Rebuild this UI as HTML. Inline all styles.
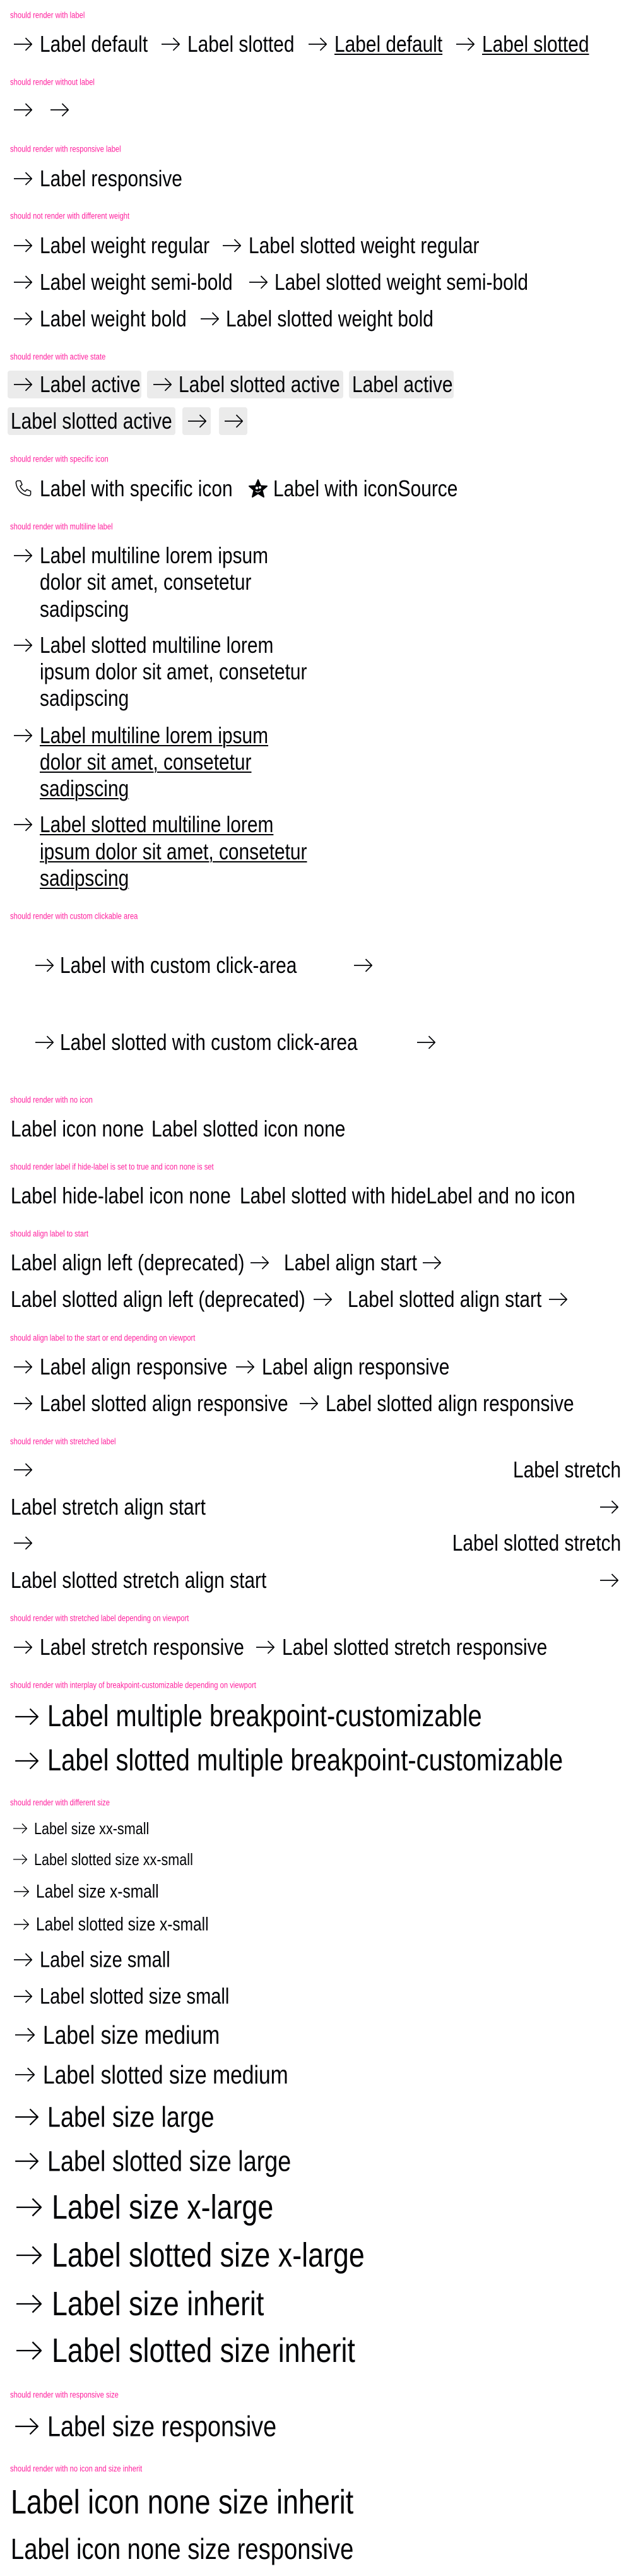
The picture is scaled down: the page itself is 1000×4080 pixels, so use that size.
<!DOCTYPE html>
<html><head><meta charset="utf-8"><style>
html,body{margin:0;padding:0;background:#fff;}
body{width:1000px;height:4080px;position:relative;overflow:hidden;font-family:"Liberation Sans",sans-serif;color:#010205;}
.t{position:absolute;white-space:nowrap;line-height:1;transform:translateY(-50%) scaleX(.83);transform-origin:0 50%;font-size:36px;}
.r{position:absolute;white-space:nowrap;line-height:1;transform:translateY(-50%) scaleX(.83);transform-origin:100% 50%;font-size:36px;right:16px;}
.h{position:absolute;left:16px;white-space:nowrap;line-height:1;transform:translateY(-50%) scaleX(.83);transform-origin:0 50%;font-size:13.5px;color:#ff1f9d;}
.u{text-decoration:underline;text-decoration-thickness:2px;text-underline-offset:3px;}
.a{position:absolute;transform:translateY(-50%);overflow:visible;}
.b{position:absolute;background:#ebebeb;border-radius:4px;}
</style></head><body>
<svg width="0" height="0" style="position:absolute"><defs><symbol id="ar" viewBox="1 0 22 24"><path d="M1 12H22.5M15 4.5L22.5 12L15 19.5" fill="none" stroke="#010205" stroke-width="1.3"/></symbol></defs></svg>

<div class="h" style="top:24px">should render with label</div>
<svg class="a" style="left:22px;top:70px;width:29px;height:32px"><use href="#ar"/></svg><div class="t" style="left:63px;top:70px">Label default</div>
<svg class="a" style="left:256px;top:70px;width:29px;height:32px"><use href="#ar"/></svg><div class="t" style="left:297px;top:70px">Label slotted</div>
<svg class="a" style="left:489px;top:70px;width:29px;height:32px"><use href="#ar"/></svg><div class="t u" style="left:530px;top:70px">Label default</div>
<svg class="a" style="left:723px;top:70px;width:29px;height:32px"><use href="#ar"/></svg><div class="t u" style="left:764px;top:70px">Label slotted</div>

<div class="h" style="top:130px">should render without label</div>
<svg class="a" style="left:22px;top:174px;width:29px;height:32px"><use href="#ar"/></svg>
<svg class="a" style="left:80px;top:174px;width:29px;height:32px"><use href="#ar"/></svg>

<div class="h" style="top:236px">should render with responsive label</div>
<svg class="a" style="left:22px;top:283px;width:29px;height:32px"><use href="#ar"/></svg><div class="t" style="left:63px;top:283px">Label responsive</div>

<div class="h" style="top:342px">should not render with different weight</div>
<svg class="a" style="left:22px;top:389px;width:29px;height:32px"><use href="#ar"/></svg><div class="t" style="left:63px;top:389px">Label weight regular</div>
<svg class="a" style="left:353px;top:389px;width:29px;height:32px"><use href="#ar"/></svg><div class="t" style="left:394px;top:389px">Label slotted weight regular</div>
<svg class="a" style="left:22px;top:447px;width:29px;height:32px"><use href="#ar"/></svg><div class="t" style="left:63px;top:447px">Label weight semi-bold</div>
<svg class="a" style="left:395px;top:447px;width:29px;height:32px"><use href="#ar"/></svg><div class="t" style="left:435px;top:447px">Label slotted weight semi-bold</div>
<svg class="a" style="left:22px;top:505px;width:29px;height:32px"><use href="#ar"/></svg><div class="t" style="left:63px;top:505px">Label weight bold</div>
<svg class="a" style="left:318px;top:505px;width:29px;height:32px"><use href="#ar"/></svg><div class="t" style="left:358px;top:505px">Label slotted weight bold</div>

<div class="h" style="top:565px">should render with active state</div>
<div class="b" style="left:12px;top:587px;width:212px;height:44px"></div>
<div class="b" style="left:233px;top:587px;width:311px;height:44px"></div>
<div class="b" style="left:553px;top:587px;width:166px;height:44px"></div>
<div class="b" style="left:12px;top:645px;width:266px;height:44px"></div>
<div class="b" style="left:289px;top:645px;width:45px;height:44px"></div>
<div class="b" style="left:347px;top:645px;width:45px;height:44px"></div>
<svg class="a" style="left:22px;top:609px;width:29px;height:32px"><use href="#ar"/></svg><div class="t" style="left:63px;top:609px">Label active</div>
<svg class="a" style="left:243px;top:609px;width:29px;height:32px"><use href="#ar"/></svg><div class="t" style="left:283px;top:609px">Label slotted active</div>
<div class="t" style="left:558px;top:609px">Label active</div>
<div class="t" style="left:17px;top:667px">Label slotted active</div>
<svg class="a" style="left:298px;top:667px;width:29px;height:32px"><use href="#ar"/></svg>
<svg class="a" style="left:356px;top:667px;width:29px;height:32px"><use href="#ar"/></svg>

<div class="h" style="top:727px">should render with specific icon</div>
<svg class="a" style="left:21px;top:774px;width:32px;height:32px" viewBox="0 0 32 32"><path d="M7 3.5l4.5 0 2.5 6-3 2.5c1.5 3.8 4.2 6.6 8 8.3l2.6-3 6 2.6v4.6c0 1.6-1.4 2.8-3 2.6C13.5 26 5.8 18.3 4.4 7.3 4.2 5.2 5.4 3.5 7 3.5z" fill="none" stroke="#010205" stroke-width="1.5" stroke-linejoin="round"/></svg>
<div class="t" style="left:63px;top:774px">Label with specific icon</div>
<svg class="a" style="left:394px;top:774px;width:30px;height:30px" viewBox="0 0 30 30"><polygon points="15,1 19,10.5 29,11 21.5,17.5 24,28 15,22.5 6,28 8.5,17.5 1,11 11,10.5" fill="#010205" stroke="#010205" stroke-width="2" stroke-linejoin="round"/><circle cx="13" cy="14" r="2.2" fill="#fff"/><circle cx="18" cy="13" r="2" fill="#fff"/><path d="M11 19q4 3 8 -1" stroke="#fff" stroke-width="1.2" fill="none"/></svg>
<div class="t" style="left:433px;top:774px">Label with iconSource</div>

<div class="h" style="top:834px">should render with multiline label</div>
<svg class="a" style="left:22px;top:880px;width:29px;height:32px"><use href="#ar"/></svg>
<div class="t" style="left:63px;top:880px">Label multiline lorem ipsum</div>
<div class="t" style="left:63px;top:922px">dolor sit amet, consetetur</div>
<div class="t" style="left:63px;top:965px">sadipscing</div>
<svg class="a" style="left:22px;top:1022px;width:29px;height:32px"><use href="#ar"/></svg>
<div class="t" style="left:63px;top:1022px">Label slotted multiline lorem</div>
<div class="t" style="left:63px;top:1064px">ipsum dolor sit amet, consetetur</div>
<div class="t" style="left:63px;top:1106px">sadipscing</div>
<svg class="a" style="left:22px;top:1165px;width:29px;height:32px"><use href="#ar"/></svg>
<div class="t u" style="left:63px;top:1165px">Label multiline lorem ipsum</div>
<div class="t u" style="left:63px;top:1207px">dolor sit amet, consetetur</div>
<div class="t u" style="left:63px;top:1249px">sadipscing</div>
<svg class="a" style="left:22px;top:1306px;width:29px;height:32px"><use href="#ar"/></svg>
<div class="t u" style="left:63px;top:1306px">Label slotted multiline lorem</div>
<div class="t u" style="left:63px;top:1349px">ipsum dolor sit amet, consetetur</div>
<div class="t u" style="left:63px;top:1391px">sadipscing</div>

<div class="h" style="top:1451px">should render with custom clickable area</div>
<svg class="a" style="left:56px;top:1529px;width:29px;height:32px"><use href="#ar"/></svg><div class="t" style="left:95px;top:1529px">Label with custom click-area</div>
<svg class="a" style="left:561px;top:1529px;width:29px;height:32px"><use href="#ar"/></svg>
<svg class="a" style="left:56px;top:1651px;width:29px;height:32px"><use href="#ar"/></svg><div class="t" style="left:95px;top:1651px">Label slotted with custom click-area</div>
<svg class="a" style="left:661px;top:1651px;width:29px;height:32px"><use href="#ar"/></svg>

<div class="h" style="top:1742px">should render with no icon</div>
<div class="t" style="left:17px;top:1788px">Label icon none</div>
<div class="t" style="left:240px;top:1788px">Label slotted icon none</div>

<div class="h" style="top:1848px">should render label if hide-label is set to true and icon none is set</div>
<div class="t" style="left:17px;top:1894px">Label hide-label icon none</div>
<div class="t" style="left:380px;top:1894px">Label slotted with hideLabel and no icon</div>

<div class="h" style="top:1954px">should align label to start</div>
<div class="t" style="left:17px;top:2000px">Label align left (deprecated)</div>
<svg class="a" style="left:397px;top:2000px;width:29px;height:32px"><use href="#ar"/></svg>
<div class="t" style="left:450px;top:2000px">Label align start</div>
<svg class="a" style="left:670px;top:2000px;width:29px;height:32px"><use href="#ar"/></svg>
<div class="t" style="left:17px;top:2058px">Label slotted align left (deprecated)</div>
<svg class="a" style="left:497px;top:2058px;width:29px;height:32px"><use href="#ar"/></svg>
<div class="t" style="left:551px;top:2058px">Label slotted align start</div>
<svg class="a" style="left:870px;top:2058px;width:29px;height:32px"><use href="#ar"/></svg>

<div class="h" style="top:2119px">should align label to the start or end depending on viewport</div>
<svg class="a" style="left:22px;top:2165px;width:29px;height:32px"><use href="#ar"/></svg><div class="t" style="left:63px;top:2165px">Label align responsive</div>
<svg class="a" style="left:374px;top:2165px;width:29px;height:32px"><use href="#ar"/></svg><div class="t" style="left:415px;top:2165px">Label align responsive</div>
<svg class="a" style="left:22px;top:2223px;width:29px;height:32px"><use href="#ar"/></svg><div class="t" style="left:63px;top:2223px">Label slotted align responsive</div>
<svg class="a" style="left:475px;top:2223px;width:29px;height:32px"><use href="#ar"/></svg><div class="t" style="left:516px;top:2223px">Label slotted align responsive</div>

<div class="h" style="top:2283px">should render with stretched label</div>
<svg class="a" style="left:22px;top:2328px;width:29px;height:32px"><use href="#ar"/></svg><div class="r" style="top:2328px">Label stretch</div>
<div class="t" style="left:17px;top:2387px">Label stretch align start</div><svg class="a" style="left:951px;top:2387px;width:29px;height:32px"><use href="#ar"/></svg>
<svg class="a" style="left:22px;top:2444px;width:29px;height:32px"><use href="#ar"/></svg><div class="r" style="top:2444px">Label slotted stretch</div>
<div class="t" style="left:17px;top:2503px">Label slotted stretch align start</div><svg class="a" style="left:951px;top:2503px;width:29px;height:32px"><use href="#ar"/></svg>

<div class="h" style="top:2563px">should render with stretched label depending on viewport</div>
<svg class="a" style="left:22px;top:2609px;width:29px;height:32px"><use href="#ar"/></svg><div class="t" style="left:63px;top:2609px">Label stretch responsive</div>
<svg class="a" style="left:406px;top:2609px;width:29px;height:32px"><use href="#ar"/></svg><div class="t" style="left:447px;top:2609px">Label slotted stretch responsive</div>

<div class="h" style="top:2669px">should render with interplay of breakpoint-customizable depending on viewport</div>
<svg class="a" style="left:24px;top:2719px;width:37px;height:40px"><use href="#ar"/></svg><div class="t" style="left:75px;top:2719px;font-size:48px">Label multiple breakpoint-customizable</div>
<svg class="a" style="left:24px;top:2789px;width:37px;height:40px"><use href="#ar"/></svg><div class="t" style="left:75px;top:2789px;font-size:48px">Label slotted multiple breakpoint-customizable</div>

<div class="h" style="top:2855px">should render with different size</div>
<svg class="a" style="left:21px;top:2896px;width:22px;height:24px"><use href="#ar"/></svg><div class="t" style="left:54px;top:2896px;font-size:26px">Label size xx-small</div>
<svg class="a" style="left:21px;top:2945px;width:22px;height:24px"><use href="#ar"/></svg><div class="t" style="left:54px;top:2945px;font-size:26px">Label slotted size xx-small</div>
<svg class="a" style="left:22px;top:2996px;width:24px;height:26px"><use href="#ar"/></svg><div class="t" style="left:57px;top:2996px;font-size:29.5px">Label size x-small</div>
<svg class="a" style="left:22px;top:3048px;width:24px;height:26px"><use href="#ar"/></svg><div class="t" style="left:57px;top:3048px;font-size:29.5px">Label slotted size x-small</div>
<svg class="a" style="left:22px;top:3104px;width:29px;height:32px"><use href="#ar"/></svg><div class="t" style="left:63px;top:3104px;font-size:35px">Label size small</div>
<svg class="a" style="left:22px;top:3162px;width:29px;height:32px"><use href="#ar"/></svg><div class="t" style="left:63px;top:3162px;font-size:35px">Label slotted size small</div>
<svg class="a" style="left:24px;top:3223px;width:31px;height:34px"><use href="#ar"/></svg><div class="t" style="left:68px;top:3223px;font-size:40.5px">Label size medium</div>
<svg class="a" style="left:24px;top:3286px;width:31px;height:34px"><use href="#ar"/></svg><div class="t" style="left:68px;top:3286px;font-size:40.5px">Label slotted size medium</div>
<svg class="a" style="left:24px;top:3353px;width:37px;height:40px"><use href="#ar"/></svg><div class="t" style="left:75px;top:3353px;font-size:45.5px">Label size large</div>
<svg class="a" style="left:24px;top:3423px;width:37px;height:40px"><use href="#ar"/></svg><div class="t" style="left:75px;top:3423px;font-size:45.5px">Label slotted size large</div>
<svg class="a" style="left:26px;top:3496px;width:40px;height:44px"><use href="#ar"/></svg><div class="t" style="left:82px;top:3496px;font-size:54px">Label size x-large</div>
<svg class="a" style="left:26px;top:3572px;width:40px;height:44px"><use href="#ar"/></svg><div class="t" style="left:82px;top:3572px;font-size:54px">Label slotted size x-large</div>
<svg class="a" style="left:26px;top:3649px;width:40px;height:44px"><use href="#ar"/></svg><div class="t" style="left:82px;top:3649px;font-size:54px">Label size inherit</div>
<svg class="a" style="left:26px;top:3723px;width:40px;height:44px"><use href="#ar"/></svg><div class="t" style="left:82px;top:3723px;font-size:54px">Label slotted size inherit</div>

<div class="h" style="top:3793px">should render with responsive size</div>
<svg class="a" style="left:24px;top:3843px;width:37px;height:40px"><use href="#ar"/></svg><div class="t" style="left:75px;top:3843px;font-size:45.5px">Label size responsive</div>

<div class="h" style="top:3910px">should render with no icon and size inherit</div>
<div class="t" style="left:17px;top:3963px;font-size:54px">Label icon none size inherit</div>
<div class="t" style="left:17px;top:4037px;font-size:46px">Label icon none size responsive</div>
</body></html>
